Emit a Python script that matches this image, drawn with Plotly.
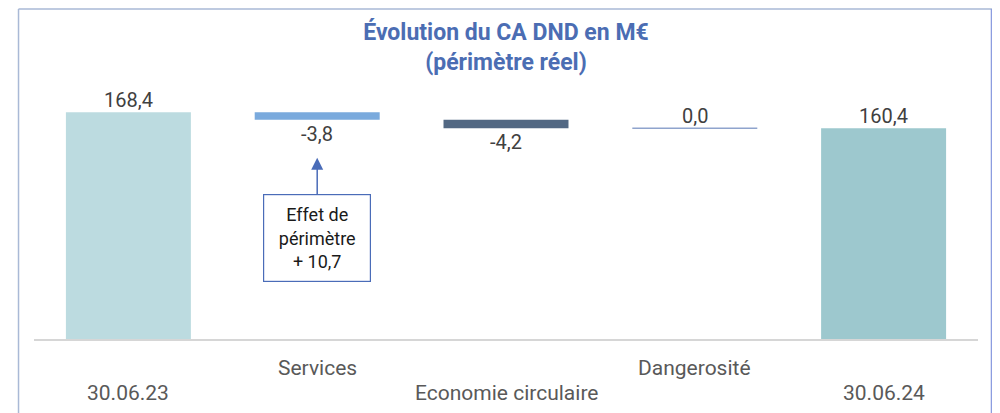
import plotly.graph_objects as go

# ---- data ----
categories = ["30.06.23", "Services", "Economie circulaire", "Dangerosité", "30.06.24"]
values = [168.4, -3.8, -4.2, 0.0, 160.4]
kinds = ["total", "delta", "delta", "delta", "total"]
value_labels = ["168,4", "-3,8", "-4,2", "0,0", "160,4"]
colors = ["#bcdbe0", "#7aaadd", "#526883", "#8fa4cd", "#9dc8ce"]
note_text = "Effet de<br>périmètre<br>+ 10,7"
title_text = "Évolution du CA DND en M€<br>(périmètre réel)"

FONT = "Roboto, 'DejaVu Sans', sans-serif"
bargap = 0.338
bar_w = 1 - bargap

# running totals for waterfall
bases, tops, ends = [], [], []
running = 0.0
for v, k in zip(values, kinds):
    if k == "total":
        bases.append(0.0)
        running = v
        tops.append(v)
        ends.append(v)
    else:
        bases.append(running)
        start = running
        running = running + v
        tops.append(max(start, running))
        ends.append(min(start, running))

xs = list(range(len(categories)))

fig = go.Figure()
fig.add_trace(go.Bar(
    x=xs, y=values, base=bases,
    marker=dict(color=colors, line=dict(width=0)),
    hoverinfo="skip", showlegend=False,
))

# zero-valued delta drawn as a thin line
for i, (v, k) in enumerate(zip(values, kinds)):
    if k == "delta" and v == 0:
        fig.add_trace(go.Scatter(
            x=[i - bar_w / 2, i + bar_w / 2], y=[bases[i], bases[i]],
            mode="lines", line=dict(color=colors[i], width=1.5),
            hoverinfo="skip", showlegend=False,
        ))

annotations = []
# value labels
for i, (v, k) in enumerate(zip(values, kinds)):
    if k == "total" or v >= 0:
        annotations.append(dict(x=i, y=tops[i], xref="x", yref="y", text=value_labels[i],
                                showarrow=False, yanchor="middle", yshift=12,
                                font=dict(family=FONT, size=20, color="#404040")))
    else:
        annotations.append(dict(x=i, y=ends[i], xref="x", yref="y", text=value_labels[i],
                                showarrow=False, yanchor="middle", yshift=-14,
                                font=dict(family=FONT, size=20, color="#404040")))

# category labels on two staggered rows
for i, c in enumerate(categories):
    annotations.append(dict(x=i, y=0, xref="x", yref="paper", text=c, showarrow=False,
                            yanchor="middle", yshift=-29 if i % 2 == 1 else -54,
                            font=dict(family=FONT, size=21, color="#595959")))

# callout box with arrow pointing at Services label
annotations.append(dict(
    x=1, y=ends[1], xref="x", yref="y", text=note_text,
    showarrow=True, ax=0, ay=118, axref="pixel", ayref="pixel",
    arrowhead=2, arrowsize=1.6, arrowwidth=1.5, arrowcolor="#4a6cb8", standoff=38,
    bordercolor="#4a6cb8", borderwidth=1.2, borderpad=1, bgcolor="white",
    width=104, height=84,
    font=dict(family=FONT, size=18, color="#1a1a1a"),
))

shapes = [
    dict(type="line", xref="paper", yref="paper", x0=-0.0164, x1=-0.0164, y0=-0.4, y1=1.352,
         line=dict(color="#a9b9d6", width=1.5)),
    dict(type="line", xref="paper", yref="paper", x0=-0.0164, x1=1.0148, y0=1.352, y1=1.352,
         line=dict(color="#a9b9d6", width=1.5)),
    dict(type="line", xref="paper", yref="paper", x0=1.0148, x1=1.0148, y0=-0.4, y1=1.352,
         line=dict(color="#8c9de0", width=2.5)),
]

fig.update_layout(
    width=992, height=405,
    margin=dict(l=26, r=22, t=87, b=74),
    paper_bgcolor="white", plot_bgcolor="white",
    bargap=bargap,
    title=dict(text=title_text, x=0.5, xref="paper", xanchor="center",
               y=1 - 32 / 405, yref="container", yanchor="middle",
               font=dict(family=FONT, size=23, color="#4b6db3", weight="bold")),
    xaxis=dict(range=[-0.5, len(categories) - 0.5], showticklabels=False, showgrid=False,
               zeroline=False, showline=True, linecolor="#d6d6d6", linewidth=2, fixedrange=True),
    yaxis=dict(range=[55, 177], visible=False, showgrid=False, zeroline=False),
    annotations=annotations,
    shapes=shapes,
    showlegend=False,
)

fig.write_html("out.html")
